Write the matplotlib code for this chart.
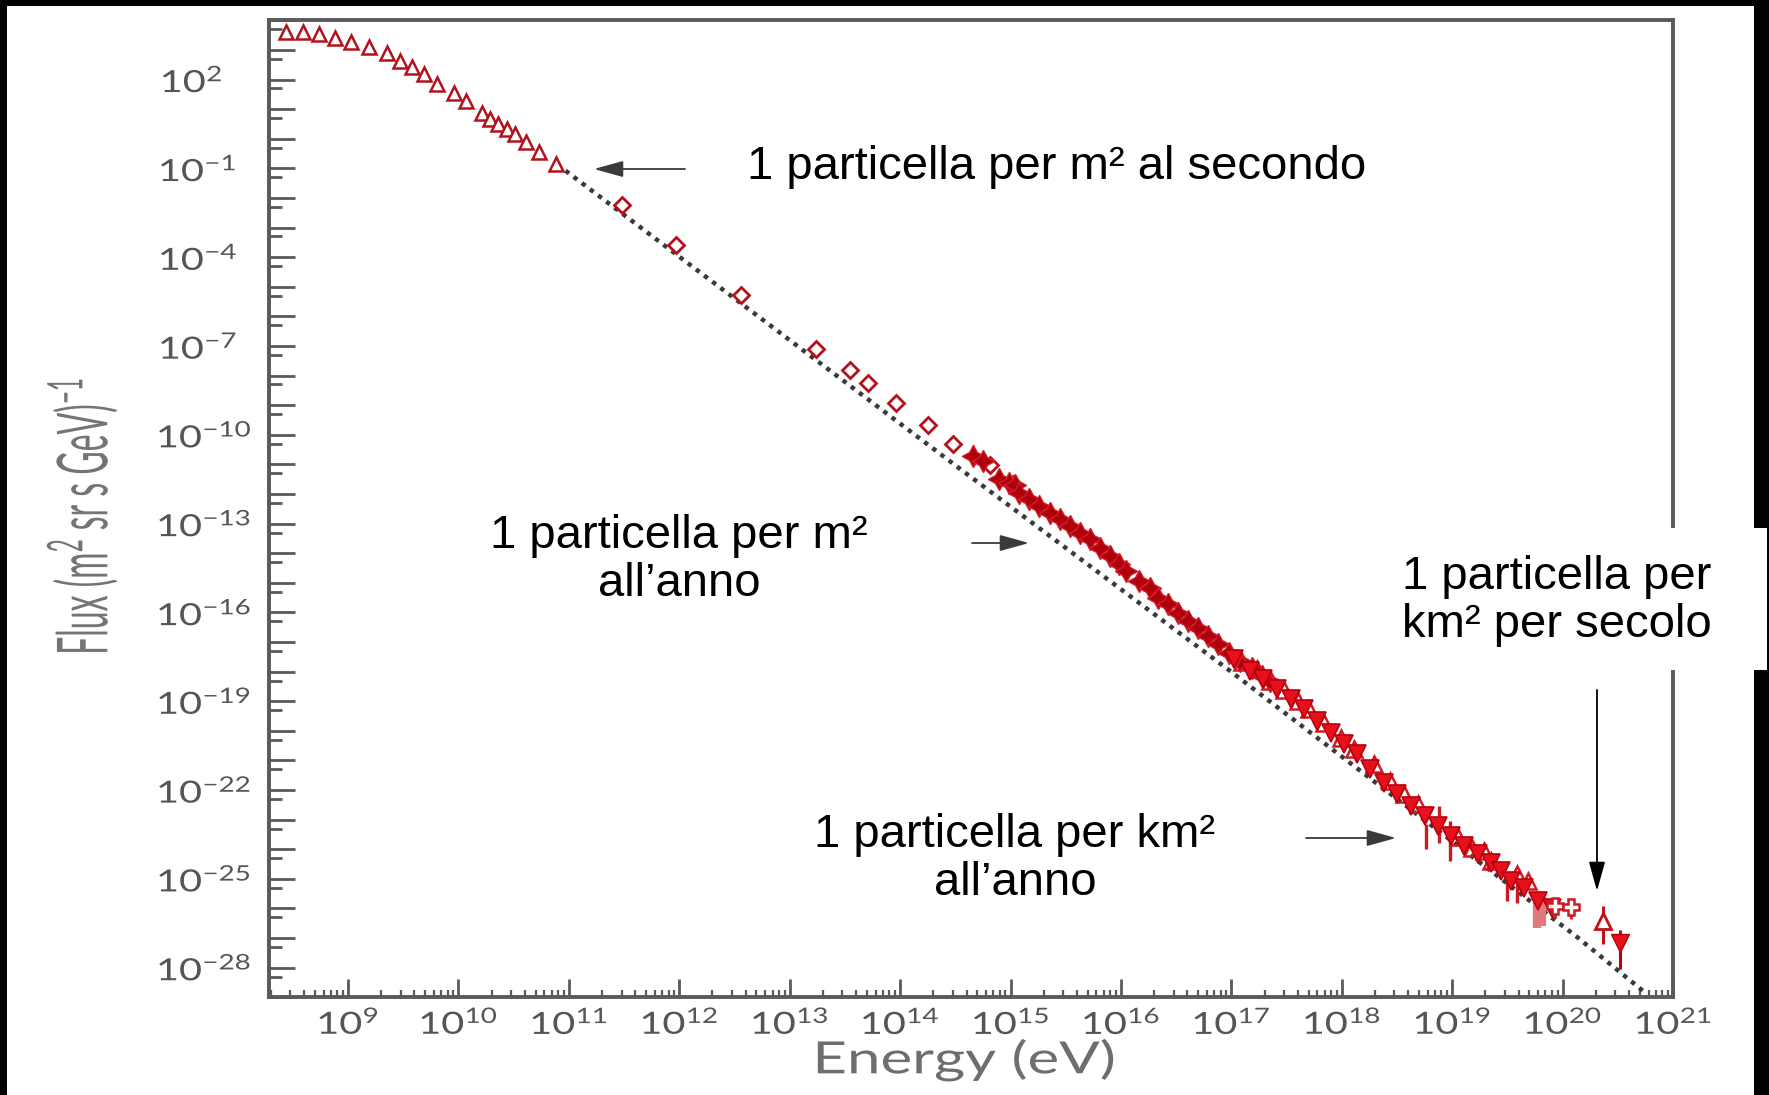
import numpy as np
import matplotlib
matplotlib.use("Agg")
import matplotlib.pyplot as plt
from matplotlib.patches import Rectangle, FancyArrowPatch
from matplotlib.patheffects import AbstractPathEffect
from matplotlib.transforms import Affine2D
from matplotlib.ticker import FixedLocator, LogLocator, NullFormatter

W, H = 1769, 1095

# every value is log10 of energy (eV) or of flux
tri_logE = [8.44, 8.59, 8.74, 8.88, 9.03, 9.19, 9.35, 9.47, 9.58, 9.69, 9.81,
            9.96, 10.07, 10.21, 10.29, 10.36, 10.44, 10.51, 10.61, 10.73, 10.88]
tri_logF = [3.60, 3.60, 3.54, 3.40, 3.26, 3.09, 2.89, 2.61, 2.42, 2.19, 1.85,
            1.55, 1.29, 0.86, 0.67, 0.50, 0.33, 0.16, -0.12, -0.46, -0.85]

dia_logE = [11.48, 11.97, 12.56, 13.24, 13.55, 13.71, 13.96, 14.25, 14.48, 14.81, 15.02]
dia_logF = [-2.25, -3.60, -5.28, -7.09, -7.81, -8.26, -8.92, -9.68, -10.32, -11.03, -11.67]

star_logE = [14.66, 14.75, 14.90, 14.99, 15.04, 15.08, 15.17, 15.26, 15.36, 15.45,
             15.54, 15.63, 15.72, 15.81, 15.90, 15.98, 16.05, 16.16, 16.26, 16.34,
             16.43, 16.52, 16.61, 16.70, 16.79, 16.88, 16.98, 17.08, 17.19, 17.28, 17.35]
star_logF = [-10.72, -10.89, -11.48, -11.62, -11.70, -11.96, -12.18, -12.41, -12.63, -12.86,
             -13.08, -13.31, -13.53, -13.81, -14.10, -14.38, -14.60, -14.94, -15.17, -15.50,
             -15.73, -16.01, -16.29, -16.52, -16.80, -17.08, -17.36, -17.64, -17.87, -18.15, -18.32]

band_logE = [17.02, 17.17, 17.29, 17.41, 17.54, 17.66, 17.78, 17.90, 18.02, 18.14, 18.26,
             18.38, 18.50, 18.63, 18.75, 18.87, 18.99, 19.11, 19.23, 19.35, 19.44, 19.53,
             19.65, 19.78, 19.90]
band_logF = [-17.58, -17.98, -18.26, -18.60, -18.94, -19.27, -19.67, -20.06, -20.46, -20.79,
             -21.30, -21.75, -22.15, -22.54, -22.88, -23.22, -23.55, -23.89, -24.17, -24.46,
             -24.74, -25.07, -25.30, -25.75, -25.98]

open_logE = [17.10, 17.23, 17.35, 17.48, 17.60, 17.70, 17.84, 17.99, 18.11, 18.29, 18.44,
             18.56, 18.69, 19.05, 19.18, 19.29, 19.35, 19.59, 19.69]
open_logF = [-17.68, -17.92, -18.32, -18.63, -18.98, -19.27, -19.73, -20.23, -20.63, -21.13,
             -21.70, -22.15, -22.48, -23.58, -23.95, -24.06, -24.40, -24.85, -25.07]

# points with vertical error bars
err_logE = [18.76, 18.88, 18.98, 19.50, 19.59]
err_logF = [-23.30, -23.10, -23.61, -25.07, -25.20]
err_lo = [-24.00, -23.78, -24.40, -25.75, -25.81]
err_hi = [-23.15, -22.54, -23.05, -24.95, -25.10]

wide_logE = [19.77, 19.81]
wide_logF = [-26.05, -26.10]
wide_lo = [-26.65, -26.60]
wide_hi = [-25.52, -25.60]

cross_logE = [19.93, 20.08]
cross_logF = [-25.92, -25.94]
cross_lo = [-26.31, -26.37]
cross_hi = [-25.75, -25.80]

tail_up_logE, tail_up_logF, tail_up_lo, tail_up_hi = [20.37], [-26.43], [-27.21], [-25.92]
tail_dn_logE, tail_dn_logF, tail_dn_lo, tail_dn_hi = [20.52], [-27.16], [-28.06], [-26.71]

# dotted reference power law
line_logE = [10.97, 14.45, 16.99, 20.14, 20.73]
line_logF = [-1.08, -10.89, -17.98, -26.99, -28.79]

x_decades = list(range(9, 22))
y_decades = list(range(-29, 5))
y_labelled = list(range(-28, 3, 3))

DARK_RED = "#b3121c"
RED = "#e8101a"
GREY = "#5a5a5a"


class Widen(AbstractPathEffect):
    """Stretch the glyph outlines along screen x about their own centre."""

    def __init__(self, sx):
        super().__init__()
        self.sx = sx

    def draw_path(self, renderer, gc, tpath, affine, rgbFace=None):
        ext = tpath.get_extents()
        cx, cy = affine.transform(((ext.x0 + ext.x1) / 2, (ext.y0 + ext.y1) / 2))
        widen = Affine2D().translate(-cx, -cy).scale(self.sx, 1).translate(cx, cy)
        renderer.draw_path(gc, tpath, affine + widen, rgbFace)


def pw(v):
    return 10.0 ** np.asarray(v, dtype=float)


def errs(mid, lo, hi):
    return [pw(mid) - pw(lo), pw(hi) - pw(mid)]


def fxy(px, py):
    # pixel position in the picture -> figure fraction
    return px / W, 1 - py / H


plt.rcParams["font.family"] = ["Lato", "DejaVu Sans"]

fig = plt.figure(figsize=(W / 100, H / 100), dpi=100, facecolor="black")
fig.patches.append(Rectangle((7 / W, 0), (1754 - 7) / W, (H - 6) / H,
                             transform=fig.transFigure, facecolor="white",
                             edgecolor="none", zorder=-10))

ax = fig.add_axes([268.5 / W, 97.7 / H, (1673 - 268.5) / W, (997.3 - 20.3) / H])
ax.set_xscale("log")
ax.set_yscale("log")

ax.plot(pw(line_logE), pw(line_logF), color="#3a3a3a", lw=3.2,
        ls=(0, (1.0, 1.3)), zorder=2)

ax.plot(pw(tri_logE), pw(tri_logF), ls="none", marker="^", ms=10, mfc="white",
        mec=DARK_RED, mew=1.8, zorder=3)
ax.plot(pw(dia_logE), pw(dia_logF), ls="none", marker="D", ms=8, mfc="white",
        mec=DARK_RED, mew=2, zorder=3)
ax.plot(pw(star_logE), pw(star_logF), ls="none", marker=(4, 1, 0), ms=16,
        mfc="#b0000c", mec="#d0202a", mew=1, zorder=3)

ax.errorbar(pw(err_logE), pw(err_logF), yerr=errs(err_logF, err_lo, err_hi),
            fmt="none", ecolor="#cc1a22", elinewidth=2.4, capsize=0, zorder=3)
ax.errorbar(pw(wide_logE), pw(wide_logF), yerr=errs(wide_logF, wide_lo, wide_hi),
            fmt="none", ecolor="#e07a7a", elinewidth=6, capsize=0, zorder=3)

ax.plot(pw(open_logE), pw(open_logF), ls="none", marker="^", ms=12, mfc="none",
        mec="#d01a22", mew=1.8, zorder=4)
ax.plot(pw(band_logE), pw(band_logF), ls="none", marker="v", ms=13, mfc=RED,
        mec="#b8000e", mew=1.2, zorder=4)

ax.errorbar(pw(cross_logE), pw(cross_logF), yerr=errs(cross_logF, cross_lo, cross_hi),
            fmt="P", ms=12, mfc="white", mec="#cc1a22", mew=1.8,
            ecolor="#cc1a22", elinewidth=2, capsize=0, zorder=4)
ax.errorbar(pw(tail_up_logE), pw(tail_up_logF),
            yerr=errs(tail_up_logF, tail_up_lo, tail_up_hi),
            fmt="^", ms=12, mfc="white", mec="#c01018", mew=2,
            ecolor="#c01018", elinewidth=2.2, capsize=0, zorder=4)
ax.errorbar(pw(tail_dn_logE), pw(tail_dn_logF),
            yerr=errs(tail_dn_logF, tail_dn_lo, tail_dn_hi),
            fmt="v", ms=13, mfc=RED, mec="#b8000e", mew=1,
            ecolor="#b8000e", elinewidth=2.2, capsize=0, zorder=4)

ax.set_xlim(10 ** 8.28, 1e21)
ax.set_ylim(1e-29, 1e4)

ax.xaxis.set_major_locator(FixedLocator(pw(x_decades)))
ax.xaxis.set_ticklabels([r"$\mathregular{10^{%d}}$" % k for k in x_decades])
ax.xaxis.set_minor_locator(LogLocator(base=10, subs=np.arange(2, 10), numticks=100))
ax.xaxis.set_minor_formatter(NullFormatter())
ax.yaxis.set_major_locator(FixedLocator(pw(y_decades)))
ax.yaxis.set_ticklabels([r"$\mathregular{10^{%d}}$" % k if k in y_labelled else ""
                         for k in y_decades])
ax.yaxis.set_minor_locator(LogLocator(base=10, subs=[5], numticks=100))
ax.yaxis.set_minor_formatter(NullFormatter())

ax.tick_params(which="both", direction="in", color=GREY, labelcolor="#555555",
               top=False, right=False)
ax.tick_params(axis="x", which="major", length=13, width=2, pad=8, labelsize=22)
ax.tick_params(axis="x", which="minor", length=5, width=1.6)
ax.tick_params(axis="y", which="major", length=19, width=2, pad=73, labelsize=22)
ax.tick_params(axis="y", which="minor", length=9.5, width=2)
for lab in ax.get_xticklabels() + ax.get_yticklabels():
    lab.set_path_effects([Widen(1.3)])
for lab in ax.get_yticklabels():
    lab.set_horizontalalignment("left")
for s in ax.spines.values():
    s.set_linewidth(2.8)
    s.set_color(GREY)

# axis titles
fig.text(*fxy(964.6, 1060), "Energy (eV)", ha="center", va="center", fontsize=32,
         color="#6e6e6e", path_effects=[Widen(1.35)])
fig.text(*fxy(82, 516), r"Flux (m$\mathregular{^2}$ sr s GeV)$\mathregular{^{-1}}$",
         rotation=90, ha="center", va="center", fontsize=23,
         color="#747474", path_effects=[Widen(2.2)])

# notes
note = dict(fontsize=34, family=["Liberation Sans", "DejaVu Sans"], color="black")
fig.patches.append(Rectangle(fxy(1390, 670), (1767 - 1390) / W, (670 - 528) / H,
                             transform=fig.transFigure, facecolor="white",
                             edgecolor="none", zorder=1))
fig.text(*fxy(747, 167), "1 particella per m² al secondo", ha="left", va="center", **note)
fig.text(*fxy(679, 560), "1 particella per m²\nall’anno", ha="center", va="center",
         linespacing=1.1, **note)
fig.text(*fxy(1015, 859), "1 particella per km²\nall’anno", ha="center", va="center",
         linespacing=1.1, **note)
fig.text(*fxy(1557, 601), "1 particella per\nkm² per secolo", ha="center", va="center",
         linespacing=1.1, zorder=2, **note)

arrows = [((685, 169), (594, 169), "#3a3a3a"),
          ((972, 543), (1029, 543), "#3a3a3a"),
          ((1306, 838), (1396, 838), "#3a3a3a"),
          ((1597, 690), (1597, 891), "black")]
for start, end, col in arrows:
    fig.add_artist(FancyArrowPatch(
        fxy(*start), fxy(*end), transform=fig.transFigure,
        arrowstyle="-|>,head_length=0.9,head_width=0.25", mutation_scale=20,
        color=col, lw=1.3, shrinkA=0, shrinkB=0, zorder=3))

fig.savefig("out.png", dpi=100, facecolor=fig.get_facecolor())
